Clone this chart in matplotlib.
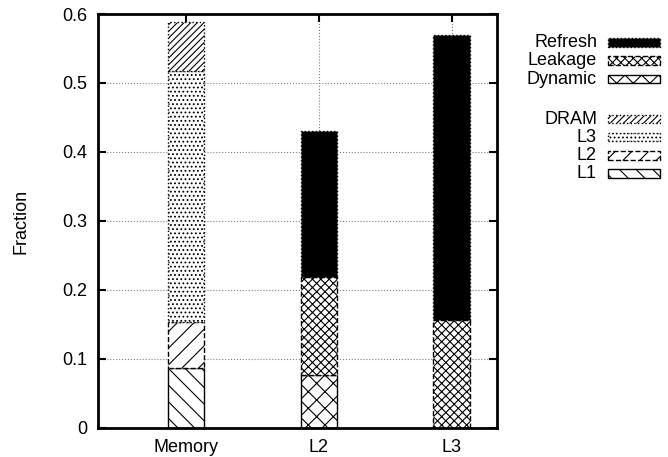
import matplotlib.pyplot as plt
from matplotlib.patches import Rectangle

plt.rcParams['font.family'] = ['Liberation Sans', 'DejaVu Sans']
plt.rcParams['hatch.linewidth'] = 0.8

categories = ['Memory', 'L2', 'L3']

# Memory bar: hierarchy breakdown
mem_l1 = 0.087
mem_l2 = 0.067
mem_l3 = 0.364
mem_dram = 0.070

# L2 / L3 bars: energy breakdown
dynamic = [0.076, 0.0]
leakage = [0.143, 0.156]
refresh = [0.211, 0.414]

W, H = 668, 457
fig = plt.figure(figsize=(W / 100, H / 100), dpi=100)
ax = fig.add_axes([98 / W, 1 - 427.7 / H, 398.7 / W, 413.7 / H])

w = 0.274
x = [0, 1, 2]

styles = {
    'L1': dict(hatch='\\\\', ls='-', fc='white'),
    'L2': dict(hatch='//', ls='--', fc='white'),
    'L3': dict(hatch='....', ls=':', fc='white'),
    'DRAM': dict(hatch='/////', ls=':', fc='white'),
    'Dynamic': dict(hatch='xx', ls='-', fc='white'),
    'Leakage': dict(hatch='xxxx', ls='--', fc='white'),
    'Refresh': dict(hatch=None, ls=':', fc='black'),
}

def seg(xpos, bottom, h, name):
    st = styles[name]
    ax.bar(xpos, h, w, bottom=bottom, color=st['fc'], hatch=st['hatch'],
           edgecolor='black', linewidth=1.0, linestyle=st['ls'], zorder=3)

# Memory stack
b = 0
for h, name in [(mem_l1, 'L1'), (mem_l2, 'L2'), (mem_l3, 'L3'), (mem_dram, 'DRAM')]:
    seg(x[0], b, h, name)
    b += h

# L2 and L3 stacks
for i in range(2):
    b = 0
    if dynamic[i] > 0:
        seg(x[i + 1], b, dynamic[i], 'Dynamic')
        b += dynamic[i]
    seg(x[i + 1], b, leakage[i], 'Leakage')
    b += leakage[i]
    seg(x[i + 1], b, refresh[i], 'Refresh')

ax.set_xlim(-0.665, 2.34)
ax.set_ylim(0, 0.6)
ax.set_xticks(x)
ax.set_xticklabels(categories, fontsize=13)
ax.set_yticks([0, 0.1, 0.2, 0.3, 0.4, 0.5, 0.6])
ax.set_yticklabels(['0', '0.1', '0.2', '0.3', '0.4', '0.5', '0.6'], fontsize=13)
ax.tick_params(direction='in', length=6, width=1.5, pad=8, top=True, right=True)
ax.grid(True, color='gray', linestyle=':', linewidth=0.8, zorder=0)
for s in ax.spines.values():
    s.set_linewidth(2)
    s.set_zorder(5)
fig.text(21 / W, 1 - 221 / H, 'Fraction', rotation=90, ha='center', va='center', fontsize=13)

# key, gnuplot style: label right-aligned, swatch to its right
key = [('Refresh', 42.3), ('Leakage', 60.5), ('Dynamic', 79),
       ('DRAM', 119), ('L3', 137), ('L2', 155.3), ('L1', 173.3)]
for name, yc in key:
    st = styles[name]
    fig.text(597 / W, 1 - yc / H, name, ha='right', va='center', fontsize=13)
    fig.add_artist(Rectangle((607.7 / W, 1 - (yc + 4.3) / H), 52.3 / W, 8.6 / H,
                             transform=fig.transFigure, facecolor=st['fc'],
                             hatch=st['hatch'], edgecolor='black', linewidth=1.0,
                             linestyle=st['ls']))

fig.savefig('out.png', dpi=100)
